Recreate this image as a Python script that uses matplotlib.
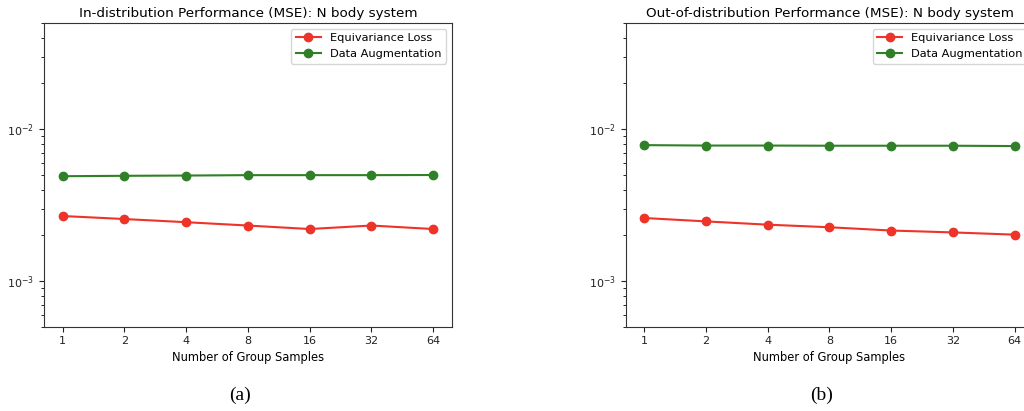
import matplotlib.pyplot as plt

# Number of group samples (plotted at evenly spaced positions)
group_samples = ["1", "2", "4", "8", "16", "32", "64"]

# In-distribution MSE
id_equiv_loss = [2.68e-3, 2.56e-3, 2.44e-3, 2.32e-3, 2.20e-3, 2.32e-3, 2.20e-3]
id_data_aug = [4.90e-3, 4.93e-3, 4.95e-3, 4.98e-3, 4.98e-3, 4.98e-3, 4.99e-3]

# Out-of-distribution MSE
ood_equiv_loss = [2.60e-3, 2.47e-3, 2.35e-3, 2.26e-3, 2.15e-3, 2.09e-3, 2.02e-3]
ood_data_aug = [7.85e-3, 7.80e-3, 7.80e-3, 7.78e-3, 7.78e-3, 7.78e-3, 7.74e-3]

RED = "#ee3328"
GREEN = "#2f8026"

fig = plt.figure(figsize=(10.24, 4.11), dpi=100)

# right panel is cut off by the figure edge, like the source image
ax_a = fig.add_axes([0.043, 0.205, 0.398, 0.739])
ax_b = fig.add_axes([0.611, 0.205, 0.398, 0.739])

panels = [
    (ax_a, id_equiv_loss, id_data_aug,
     "In-distribution Performance (MSE): N body system", "(a)"),
    (ax_b, ood_equiv_loss, ood_data_aug,
     "Out-of-distribution Performance (MSE): N body system", "(b)"),
]

x = list(range(len(group_samples)))
for ax, equiv, aug, title, caption in panels:
    ax.plot(x, equiv, "-o", color=RED, markersize=6, linewidth=1.5, label="Equivariance Loss")
    ax.plot(x, aug, "-o", color=GREEN, markersize=6, linewidth=1.5, label="Data Augmentation")
    ax.set_yscale("log")
    ax.set_ylim(5e-4, 5e-2)
    ax.set_xticks(x)
    ax.set_xticklabels(group_samples)
    ax.tick_params(labelsize=8, colors="#222222")
    ax.set_xlabel("Number of Group Samples", fontsize=8.3, labelpad=3)
    ax.set_title(title, fontsize=9.7, pad=4)
    ax.legend(loc="upper right", fontsize=8.2, handlelength=2.2, borderaxespad=0.5)
    for s in ax.spines.values():
        s.set_color("#333333")
    # subfigure caption
    ax.text(0.48, -0.225, caption, transform=ax.transAxes, ha="center", va="center",
            fontsize=14, family="Liberation Serif")

fig.savefig("out.png", dpi=100)
